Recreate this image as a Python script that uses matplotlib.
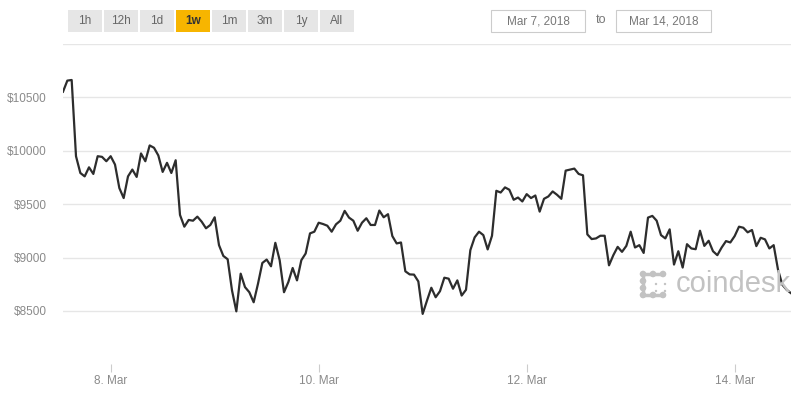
import pandas as pd
import matplotlib
matplotlib.use("Agg")
import matplotlib.pyplot as plt
import matplotlib.dates as mdates
from matplotlib.patches import Rectangle, Circle

# Hourly bitcoin price (USD), starting Mar 7 2018 13:00
start_time = "2018-03-07 13:00"
prices = [
    10553, 10657, 10663, 9949, 9792, 9760, 9845, 9783, 9949, 9943, 9902, 9949,
    9871, 9651, 9557, 9760, 9824, 9755, 9975, 9902, 10050, 10028, 9956, 9802,
    9887, 9792, 9911, 9399, 9289, 9352, 9345, 9383, 9336, 9274, 9305, 9377,
    9116, 9015, 8984, 8692, 8496, 8849, 8723, 8675, 8581, 8755, 8949, 8981,
    8918, 9138, 8975, 8675, 8770, 8902, 8786, 8975, 9038, 9226, 9242, 9326,
    9314, 9298, 9242, 9311, 9345, 9437, 9374, 9345, 9251, 9326, 9368, 9305,
    9305, 9440, 9377, 9406, 9201, 9132, 9141, 8871, 8842, 8840, 8776, 8472,
    8597, 8717, 8628, 8685, 8811, 8802, 8708, 8786, 8644, 8698, 9069, 9189,
    9242, 9210, 9076, 9204, 9625, 9609, 9657, 9635, 9541, 9562, 9525, 9594,
    9557, 9581, 9430, 9550, 9572, 9619, 9588, 9550, 9814, 9823, 9833, 9783,
    9770, 9217, 9173, 9179, 9204, 9204, 8927, 9022, 9100, 9053, 9109, 9242,
    9094, 9116, 9043, 9374, 9390, 9345, 9210, 9179, 9264, 8934, 9059, 8906,
    9125, 9085, 9078, 9251, 9109, 9157, 9059, 9022, 9094, 9154, 9141, 9201,
    9289, 9279, 9236, 9258, 9107, 9185, 9170, 9085, 9116, 8887, 8745, 8698,
    8666,
]
y_ticks = [8500, 9000, 9500, 10000, 10500, 11000]
y_tick_labels = ["$8500", "$9000", "$9500", "$10000", "$10500", ""]
x_tick_days = ["2018-03-08", "2018-03-10", "2018-03-12", "2018-03-14"]
range_buttons = ["1h", "12h", "1d", "1w", "1m", "3m", "1y", "All"]
active_button = "1w"
date_from = "Mar 7, 2018"
date_to = "Mar 14, 2018"

W, H = 800, 400
plt.rcParams["font.family"] = ["Liberation Sans", "DejaVu Sans"]

fig = plt.figure(figsize=(W / 100, H / 100), dpi=100)


def px(x, y):
    # pixel position (from top left) to figure fraction
    return x / W, 1 - y / H


# Main price axes
ax = fig.add_axes([63 / W, 1 - 364.3 / H, (791 - 63) / W, (364.3 - 44) / H])
times = pd.date_range(start_time, periods=len(prices), freq="h")
ax.plot(times, prices, color="#2d2d2d", linewidth=1.6, zorder=3)

ax.set_xlim(times[0], times[-1])
ax.set_ylim(8000, 11000)
ax.set_yticks(y_ticks)
ax.set_yticklabels(y_tick_labels)
ax.set_xticks(pd.to_datetime(x_tick_days))
ax.xaxis.set_major_formatter(mdates.DateFormatter("%-d. %b"))

ax.grid(axis="y", color="#e6e6e6", linewidth=1)
ax.set_axisbelow(True)
for side in ["top", "right", "left", "bottom"]:
    ax.spines[side].set_visible(False)
ax.tick_params(axis="y", length=0, pad=11.5, labelsize=8.5, labelcolor="#8a8a8a")
ax.tick_params(axis="x", length=6, width=0.8, color="#cccccc", pad=1.5,
               labelsize=8.5, labelcolor="#8a8a8a")

# Range buttons along the top
for i, label in enumerate(range_buttons):
    bx = 68 + i * 36
    active = label == active_button
    fx, fy = px(bx, 31.7)
    fig.patches.append(Rectangle((fx, fy), 34 / W, 21.7 / H, transform=fig.transFigure,
                                 facecolor="#f7b500" if active else "#e6e6e6",
                                 edgecolor="none"))
    tx, ty = px(bx + 17, 21)
    fig.text(tx, ty, label, ha="center", va="center", fontsize=8.5,
             color="#333333" if active else "#666666",
             fontweight="bold" if active else "normal")

# Date range boxes
for x0, x1, text in [(491, 585, date_from), (616, 711, date_to)]:
    fx, fy = px(x0, 31.7)
    fig.patches.append(Rectangle((fx, fy), (x1 - x0) / W, 21.7 / H, transform=fig.transFigure,
                                 facecolor="white", edgecolor="#cccccc", linewidth=0.8))
    tx, ty = px((x0 + x1) / 2, 21)
    fig.text(tx, ty, text, ha="center", va="center", fontsize=8.5, color="#777777")
tx, ty = px(601.5, 20)
fig.text(tx, ty, "to", ha="center", va="center", fontsize=9, color="#777777")

# coindesk watermark
logo_grey = "#c2c2c2"
tx, ty = px(676, 284)
fig.text(tx, ty, "coindesk", ha="left", va="center", fontsize=21, color=logo_grey, zorder=1)
logo_dots = [(643, 274, 3.3), (653, 274, 3.3), (663, 274, 3.3),
             (643, 281, 3.3), (643, 288, 3.3),
             (643, 295, 3.3), (653, 295, 3.3), (663, 295, 3.3),
             (656, 284, 1.2), (656, 291, 1.2), (665, 284, 1.2), (665, 291, 1.2)]
for dx, dy, r in logo_dots:
    cx, cy = px(dx, dy)
    fig.patches.append(Circle((cx * W, cy * H), r, transform=None, facecolor=logo_grey,
                              edgecolor="none"))
for (x0, y0), (x1, y1) in [((643, 274), (663, 274)), ((643, 274), (643, 295)),
                           ((643, 295), (663, 295))]:
    a, b = px(x0, y0)
    c, d = px(x1, y1)
    fig.add_artist(plt.Line2D([a, c], [b, d], transform=fig.transFigure,
                              color=logo_grey, linewidth=2.5))

fig.savefig("out.png", dpi=100)
